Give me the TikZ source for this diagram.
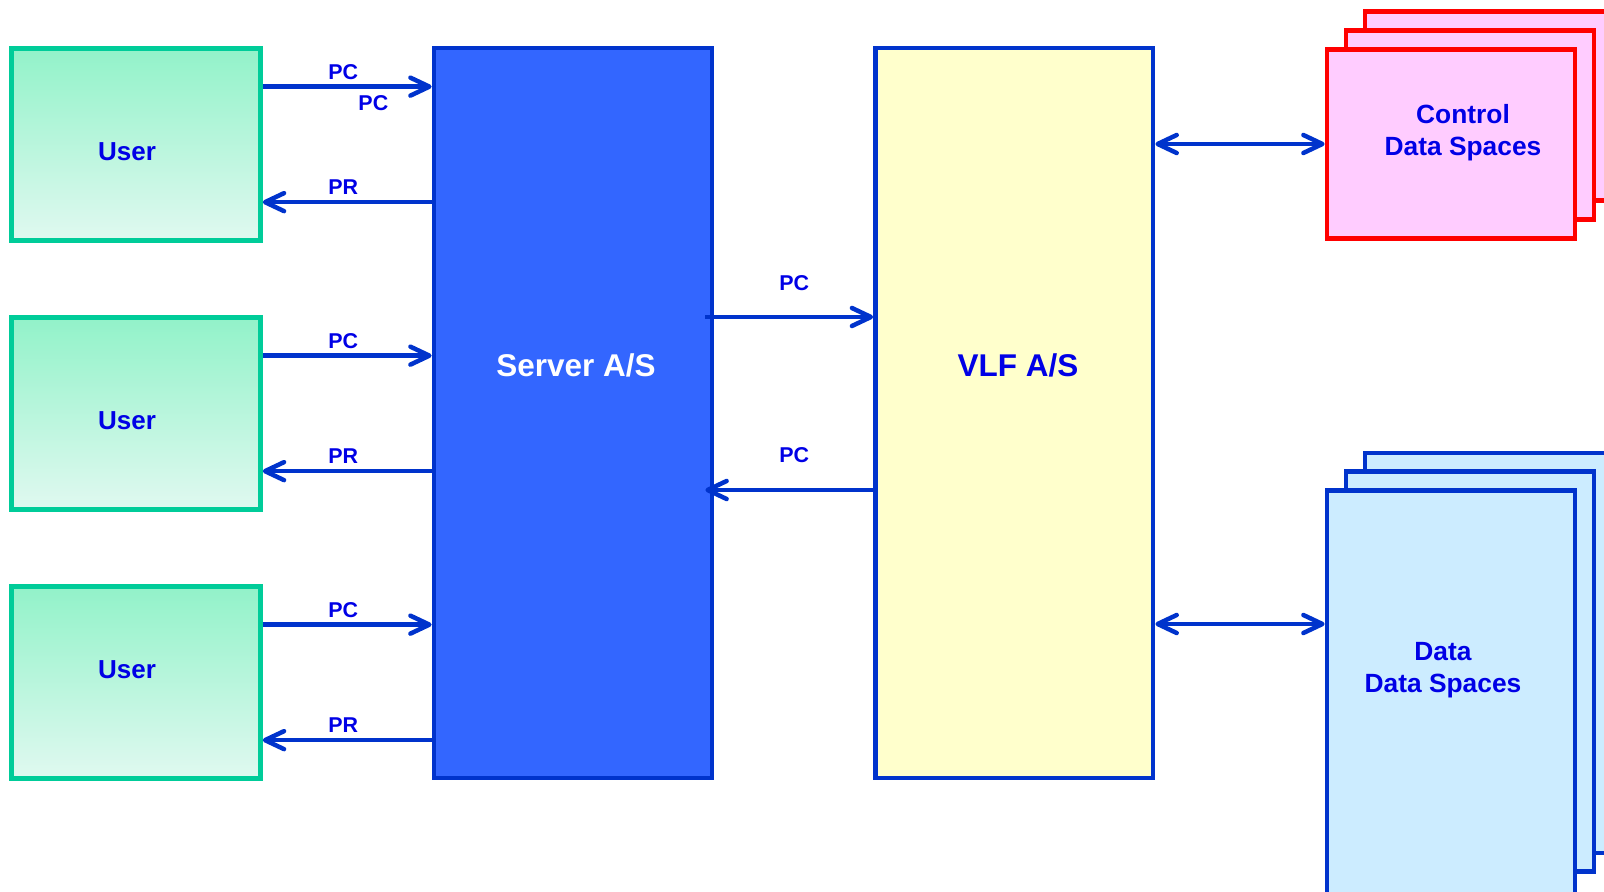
\documentclass[tikz,border=0pt]{standalone}
\usepackage{fontspec}
\setmainfont{Liberation Sans}
\usetikzlibrary{arrows.meta}

\definecolor{linkblue}{HTML}{0033CC}
\definecolor{textblue}{HTML}{0000E6}
\definecolor{userline}{HTML}{00CC99}
\definecolor{usertop}{HTML}{92F2C9}
\definecolor{userbottom}{HTML}{E0F9F0}
\definecolor{serverfill}{HTML}{3366FF}
\definecolor{vlffill}{HTML}{FFFFCC}
\definecolor{ctrlfill}{HTML}{FFCCFF}
\definecolor{datafill}{HTML}{CCECFF}

\tikzset{
  userbox/.style={draw=userline, line width=0.95mm, top color=usertop, bottom color=userbottom,
    minimum width=49.8mm, minimum height=38.3mm, inner sep=0pt},
  serverbox/.style={draw=linkblue, line width=0.95mm, fill=serverfill,
    minimum width=55.6mm, minimum height=146mm, inner sep=0pt},
  vlfbox/.style={draw=linkblue, line width=0.95mm, fill=vlffill,
    minimum width=55.5mm, minimum height=146mm, inner sep=0pt},
  ctrlbox/.style={draw=red, line width=0.95mm, fill=ctrlfill,
    minimum width=49.6mm, minimum height=37.8mm, inner sep=0pt},
  databox/.style={draw=linkblue, line width=0.95mm, fill=datafill,
    minimum width=49.6mm, minimum height=80mm, inner sep=0pt},
  usertext/.style={text=textblue, font=\bfseries\fontsize{14.8}{17}\selectfont},
  bigtext/.style={font=\bfseries\fontsize{17.9}{21}\selectfont},
  spacetext/.style={text=textblue, align=center, inner sep=0pt, font=\bfseries\fontsize{15}{18.2}\selectfont},
  lbl/.style={text=textblue, inner sep=0pt, font=\bfseries\fontsize{12.2}{14}\selectfont},
  flow/.style={draw=linkblue, line width=0.9mm, ->}
}

\begin{document}
\begin{tikzpicture}[x=0.2mm, y=-0.2mm,
    >={Straight Barb[length=3.8mm, width=3.6mm, line cap=round, line join=round]}]
  \useasboundingbox (0,0) rectangle (1604,892);
  \clip (0,0) rectangle (1604,892);

  % Draw the user boxes
  \node[userbox] (U1) at (135.9,144.4) {};
  \node[userbox] (U2) at (135.9,413.4) {};
  \node[userbox] (U3) at (135.9,682.4) {};
  \node[usertext] (T1) at (127,151.4) {User};
  \node[usertext] (T2) at (127,420.4) {User};
  \node[usertext] (T3) at (127,670) {User};

  % Draw the server and the VLF
  \node[serverbox] (S) at (573,413) {};
  \node[bigtext, text=white] (ST) at (576,365) {Server A/S};
  \node[vlfbox] (V) at (1014.3,413) {};
  \node[bigtext, text=textblue] (VT) at (1018,365) {VLF A/S};

  % Draw the stacked data spaces
  \node[ctrlbox] (C3) at (1489,106) {};
  \node[ctrlbox] (C2) at (1470,125) {};
  \node[ctrlbox] (C1) at (1451,144) {};
  \node[spacetext] (CT) at (1463,133) {Control\\Data Spaces};

  \node[databox] (D3) at (1489,653) {};
  \node[databox] (D2) at (1470,671.25) {};
  \node[databox, minimum height=82.9mm] (D1) at (1451,697.75) {};
  \node[spacetext] (DT) at (1443,670) {Data\\Data Spaces};

  % User <-> server
  \coordinate (U1pc) at ([yshift=11.55mm]U1.east);
  \coordinate (U1pr) at ([yshift=-11.55mm]U1.east);
  \coordinate (U2pc) at ([yshift=11.55mm]U2.east);
  \coordinate (U2pr) at ([yshift=-11.55mm]U2.east);
  \coordinate (U3pc) at ([yshift=11.55mm]U3.east);
  \coordinate (U3pr) at ([yshift=-11.55mm]U3.east);

  \draw[flow] (U1pc) -- (U1pc -| S.west) node[lbl, pos=0.476, yshift=3mm] (L1) {PC}
    node[lbl, pos=0.655, yshift=-3.3mm] (L1b) {PC};
  \draw[flow] (U1pr -| S.west) -- (U1pr) node[lbl, pos=0.523, yshift=3.1mm] (L2) {PR};
  \draw[flow] (U2pc) -- (U2pc -| S.west) node[lbl, pos=0.476, yshift=3mm] (L3) {PC};
  \draw[flow] (U2pr -| S.west) -- (U2pr) node[lbl, pos=0.523, yshift=3.1mm] (L4) {PR};
  \draw[flow] (U3pc) -- (U3pc -| S.west) node[lbl, pos=0.476, yshift=3mm] (L5) {PC};
  \draw[flow] (U3pr -| S.west) -- (U3pr) node[lbl, pos=0.523, yshift=3.1mm] (L6) {PR};

  % Server <-> VLF
  \coordinate (SV) at ([xshift=-1.8mm, yshift=19.2mm]S.east);
  \coordinate (Sin) at ([xshift=-1.8mm]S.east);
  \coordinate (VS) at ([yshift=-15.4mm]V.west);
  \draw[flow] (SV) -- (SV -| V.west) node[lbl, midway, xshift=1mm, yshift=6.8mm] (L7) {PC};
  \draw[flow] (VS) -- (VS -| Sin) node[lbl, midway, xshift=1mm, yshift=7mm] (L8) {PC};

  % VLF <-> data spaces
  \coordinate (VD) at ([yshift=-42.2mm]V.east);
  \draw[flow, <->] (V.east |- C1.west) -- (C1.west);
  \draw[flow, <->] (VD) -- (VD -| D1.west);
\end{tikzpicture}
\end{document}
